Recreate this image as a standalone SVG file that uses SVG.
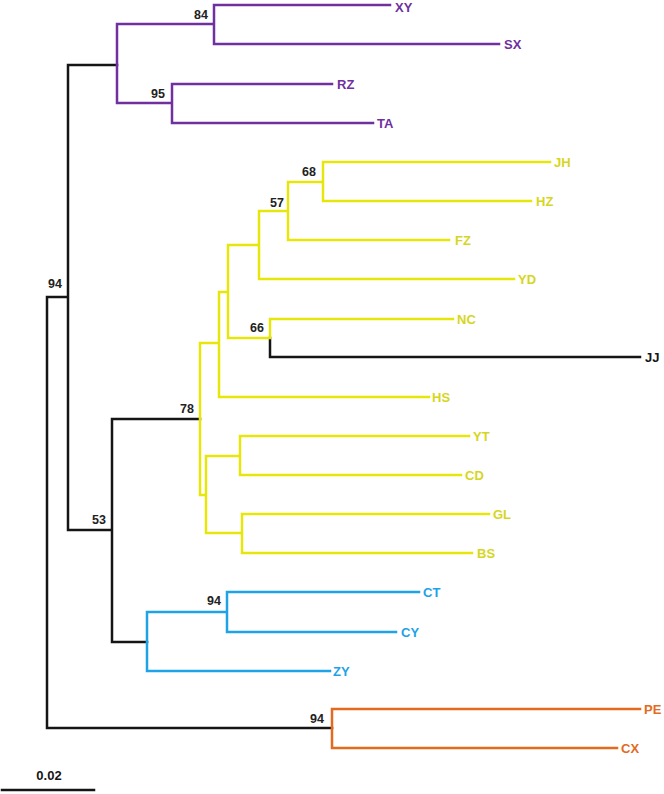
<svg xmlns="http://www.w3.org/2000/svg" width="664" height="794" viewBox="0 0 664 794">
<style>
  .br { fill: none; stroke-width: 2.5; stroke-linecap: square; }
  .k { stroke: #151515; }
  .p { stroke: #7030A0; }
  .y { stroke: #E6E60A; }
  .b { stroke: #1EA3E6; }
  .o { stroke: #E36A1E; }
  text { font-family: "Liberation Sans", Arial, sans-serif; font-weight: bold; font-size: 13px; }
  .lp { fill: #7030A0; }
  .ly { fill: #D6D61E; }
  .lb { fill: #1EA3E6; }
  .lo { fill: #E36A1E; }
  .lk { fill: #151515; }
  .bs { fill: #222; text-anchor: end; font-size: 12.5px; }
</style>
<rect width="664" height="794" fill="#ffffff"/>
<g id="connectors">
  <path class="br k" d="M47,297 H68 M47,297 V728 H332 M68,65 V530 M68,65 H117 M68,530 H112 M112,419 V642 M112,419 H200 M112,642 H147 M270,338 V357 H640"/>
  <path class="br p" d="M117,24 V103 M117,24 H214 M214,5 V44 M214,5 H390 M214,44 H499 M117,103 H172 M172,84 V123 M172,84 H332 M172,123 H373"/>
  <path class="br y" d="M200,343 V495 M200,343 H219 M219,292 V397 M219,292 H228 M219,397 H429 M228,245 V338 M228,245 H259 M228,338 H270 M270,319 V338 M270,319 H453 M259,211 V279 M259,211 H288 M259,279 H514 M288,182 V240 M288,182 H323 M288,240 H449 M323,162 V201 M323,162 H550 M323,201 H531 M200,495 H206 M206,456 V533 M206,456 H240 M206,533 H242 M240,436 V475 M240,436 H469 M240,475 H461 M242,514 V553 M242,514 H489 M242,553 H472"/>
  <path class="br b" d="M147,612 V671 M147,612 H227 M227,592 V632 M227,592 H419 M227,632 H396 M147,671 H330"/>
  <path class="br o" d="M332,709 V748 M332,709 H640 M332,748 H617"/>
</g>
<g id="internal-nodes">
  <g id="n-root"><text class="bs" x="62" y="288">94</text></g>
  <g id="n-purple"><text class="bs" x="208" y="19">84</text></g>
  <g id="n-rz-ta"><text class="bs" x="165" y="98">95</text></g>
  <g id="n-jh-hz"><text class="bs" x="316" y="176">68</text></g>
  <g id="n-57"><text class="bs" x="284" y="207">57</text></g>
  <g id="n-nc-jj"><text class="bs" x="264" y="332">66</text></g>
  <g id="n-yellow"><text class="bs" x="194" y="413">78</text></g>
  <g id="n-53"><text class="bs" x="106" y="524">53</text></g>
  <g id="n-blue"><text class="bs" x="221" y="605">94</text></g>
  <g id="n-orange"><text class="bs" x="324" y="723">94</text></g>
</g>
<g id="leaves">
  <g id="XY"><text class="lp" x="395" y="12">XY</text></g>
  <g id="SX"><text class="lp" x="504" y="49">SX</text></g>
  <g id="RZ"><text class="lp" x="337" y="89">RZ</text></g>
  <g id="TA"><text class="lp" x="377" y="128">TA</text></g>
  <g id="JH"><text class="ly" x="554" y="167">JH</text></g>
  <g id="HZ"><text class="ly" x="536" y="206">HZ</text></g>
  <g id="FZ"><text class="ly" x="455" y="245">FZ</text></g>
  <g id="YD"><text class="ly" x="518" y="284">YD</text></g>
  <g id="NC"><text class="ly" x="457" y="324">NC</text></g>
  <g id="JJ"><text class="lk" x="645" y="362">JJ</text></g>
  <g id="HS"><text class="ly" x="432" y="402">HS</text></g>
  <g id="YT"><text class="ly" x="473" y="441">YT</text></g>
  <g id="CD"><text class="ly" x="465" y="480">CD</text></g>
  <g id="GL"><text class="ly" x="493" y="519">GL</text></g>
  <g id="BS"><text class="ly" x="477" y="558">BS</text></g>
  <g id="CT"><text class="lb" x="423" y="597">CT</text></g>
  <g id="CY"><text class="lb" x="401" y="637">CY</text></g>
  <g id="ZY"><text class="lb" x="333" y="676">ZY</text></g>
  <g id="PE"><text class="lo" x="644" y="714">PE</text></g>
  <g id="CX"><text class="lo" x="621" y="753">CX</text></g>
</g>
<g id="scale-bar">
  <path class="br k" d="M2,790 H94"/>
  <text class="lk" x="49" y="780" text-anchor="middle" font-size="12.5">0.02</text>
</g>
</svg>
